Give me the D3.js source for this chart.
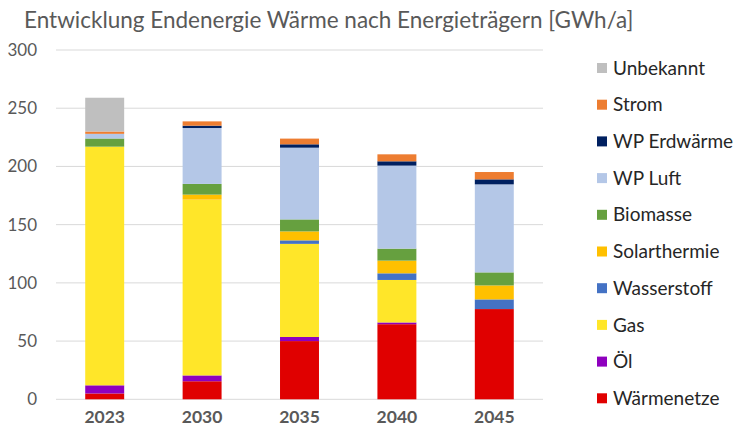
<!DOCTYPE html>
<html><head><meta charset="utf-8">
<script src="https://cdn.jsdelivr.net/npm/d3@7"></script>
<style>body{margin:0;background:#fff}svg{display:block}</style>
</head><body><svg id="c" width="736" height="430"></svg>
<script>
const years = ["2023","2030","2035","2040","2045"];
const seriesNames = ["Wärmenetze","Öl","Gas","Wasserstoff","Solarthermie","Biomasse","WP Luft","WP Erdwärme","Strom","Unbekannt"];
const seriesColors = ["#E00000","#8E00BE","#FFE629","#4472C4","#FFC000","#66A03F","#B4C7E7","#002060","#ED7D31","#BFBFBF"];
const waermenetze = [5, 15.5, 50, 64.5, 77.5];
const oel         = [7, 5, 3.5, 1.5, 0];
const gas         = [205, 151, 80, 36.5, 0];
const wasserstoff = [0, 0, 3, 5.7, 8.3];
const solarthermie= [0, 4.3, 7.7, 10.9, 12];
const biomasse    = [7, 9.2, 10.3, 10.3, 11.2];
const wpLuft      = [4, 48, 61.6, 71.3, 75.6];
const wpErdwaerme = [0, 2, 2.9, 3.7, 4.3];
const strom       = [2, 3.7, 4.9, 6, 6.3];
const unbekannt   = [29, 0, 0, 0, 0];
const yTicks = [0,50,100,150,200,250,300];
const title = "Entwicklung Endenergie Wärme nach Energieträgern [GWh/a]";

const seriesValues = [waermenetze,oel,gas,wasserstoff,solarthermie,biomasse,wpLuft,wpErdwaerme,strom,unbekannt];
const table = years.map((y,i)=>{const o={year:y}; seriesNames.forEach((n,k)=>o[n]=seriesValues[k][i]); return o;});

const svg = d3.select("#c");
const font = "Lato, 'Open Sans', sans-serif";
const textCol = "#595959";
const m = {l:56, r:193, t:50, b:31};
const W = 736, H = 430;
const x = d3.scaleBand().domain(years).range([m.l, W-m.r]).paddingInner(0.6).paddingOuter(0.3);
const y = d3.scaleLinear().domain([0,300]).range([399.3, 50]);

// grid
svg.append("g").selectAll("line").data(yTicks).join("line")
  .attr("x1", m.l).attr("x2", W-m.r)
  .attr("y1", d=>y(d)).attr("y2", d=>y(d))
  .attr("stroke", "#d9d9d9").attr("stroke-width", 1);

// y axis labels
const yAxis = d3.axisLeft(y).tickValues(yTicks).tickSize(0).tickPadding(0);
const ga = svg.append("g").attr("transform","translate(37,0)").call(yAxis);
ga.select(".domain").remove();
ga.selectAll("text").attr("font-family",font).attr("font-size",17).attr("fill",textCol);

// stacks
const stack = d3.stack().keys(seriesNames)(table);
svg.append("g").selectAll("g").data(stack).join("g")
  .attr("fill",(d,i)=>seriesColors[i])
  .selectAll("rect").data(d=>d).join("rect")
  .attr("x", d=>x(d.data.year))
  .attr("width", x.bandwidth())
  .attr("y", d=>y(d[1]))
  .attr("height", d=>Math.max(0, y(d[0])-y(d[1])));

// x axis labels
const xAxis = d3.axisBottom(x).tickSize(0).tickPadding(0);
const gx = svg.append("g").attr("transform","translate(0,411)").call(xAxis);
gx.select(".domain").remove();
gx.selectAll("text").attr("font-family",font).attr("font-size",17.5).attr("font-weight","bold").attr("fill",textCol);

// title
svg.append("text").attr("x",24).attr("y",28).attr("font-family",font).attr("font-size",22.5)
  .attr("fill",textCol).text(title);

// legend
const leg = svg.append("g");
const legOrder = seriesNames.slice().reverse();
legOrder.forEach((n,i)=>{
  const cy = 68 + i*36.7;
  leg.append("rect").attr("x",597).attr("y",cy-5).attr("width",10).attr("height",10)
    .attr("fill", seriesColors[seriesNames.indexOf(n)]);
  leg.append("text").attr("x",613).attr("y",cy).attr("dy","0.35em")
    .attr("font-family",font).attr("font-size",19).attr("fill","#262626").text(n);
});
</script></body></html>
